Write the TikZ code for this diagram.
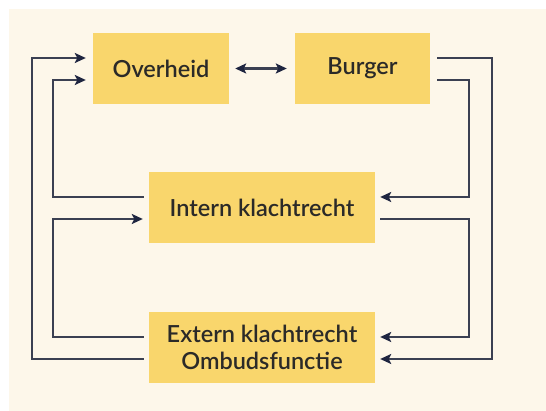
\documentclass[tikz,border=0pt]{standalone}
\usepackage{fontspec}
\setmainfont{Lato}[UprightFont={* Semibold}]
\usetikzlibrary{arrows.meta}
\definecolor{bgcream}{HTML}{FDF7EA}
\definecolor{boxyellow}{HTML}{F9D66C}
\definecolor{linecol}{HTML}{3B4052}
\definecolor{tipcol}{HTML}{1E2540}
\definecolor{txtcol}{HTML}{2B2A28}
\tikzset{
  tip/.style={Stealth[length=11pt,width=10pt,inset=2.5pt,color=tipcol]},
  box/.style={fill=boxyellow, draw=none, minimum height=71pt, inner sep=0pt, align=center,
    font=\fontsize{23.5}{27}\selectfont, text=txtcol},
  conn/.style={draw=linecol, line width=2pt},
  arr/.style={conn, -{Stealth[length=11pt,width=10pt,inset=2.5pt,color=tipcol]}},
  darr/.style={conn, line width=2.4pt, {Stealth[length=11pt,width=10pt,inset=2.5pt,color=tipcol]}-{Stealth[length=11pt,width=10pt,inset=2.5pt,color=tipcol]}}
}
\begin{document}
\begin{tikzpicture}[x=1pt,y=-1pt]
\useasboundingbox (0,0) rectangle (546,411);
\fill[white] (0,0) rectangle (546,411);
\fill[bgcream] (9,9) rectangle (546,411);

\node[box, minimum width=136pt] (ov) at (161,68.5) {Overheid};
\node[box, minimum width=135pt] (bu) at (362.5,68.5) {Burger};
\node[box, minimum width=226pt] (in) at (262,207.5) {Intern klachtrecht};
\node[box, minimum width=226pt] (ex) at (262,347.5) {Extern klachtrecht\\Ombudsfunctie};

% Overheid <-> Burger
\draw[darr] ([xshift=6pt]ov.east) -- ([xshift=-8pt]bu.west);

% Left side
\draw[arr] ([xshift=-5pt,yshift=-11.5pt]ex.west) -| (32,58) -- ([xshift=-7pt,yshift=10.5pt]ov.west);
\draw[arr] ([xshift=-5pt,yshift=10.5pt]in.west) -| (53,80) -- ([xshift=-7pt,yshift=-11.5pt]ov.west);
\draw[arr] ([xshift=-5pt,yshift=10.5pt]ex.west) -| (53,219) -- ([xshift=-6pt,yshift=-11.5pt]in.west);

% Right side
\draw[arr] ([xshift=7pt,yshift=10.5pt]bu.east) -| (492,359) -- ([xshift=5pt,yshift=-11.5pt]ex.east);
\draw[arr] ([xshift=7pt,yshift=-11.5pt]bu.east) -| (469,197) -- ([xshift=5pt,yshift=10.5pt]in.east);
\draw[arr] ([xshift=5pt,yshift=-11.5pt]in.east) -| (469,337) -- ([xshift=5pt,yshift=10.5pt]ex.east);
\end{tikzpicture}
\end{document}
